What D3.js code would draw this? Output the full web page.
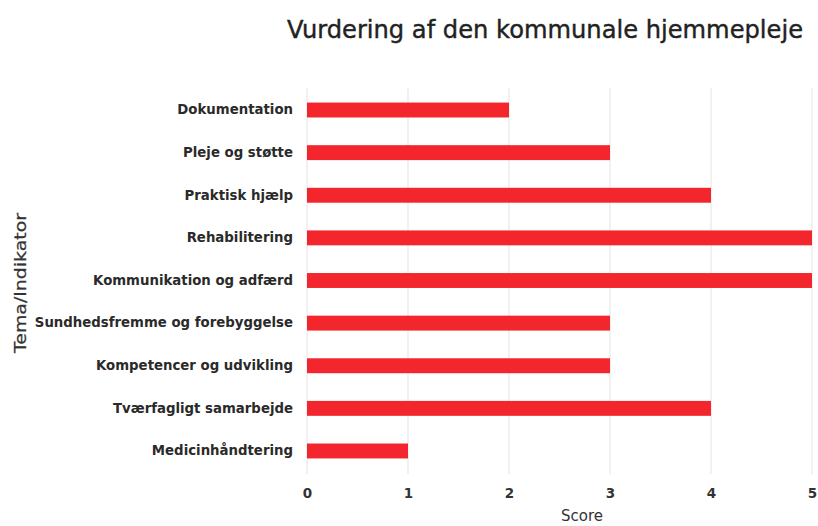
<!DOCTYPE html>
<html><head><meta charset="utf-8">
<script src="https://cdn.jsdelivr.net/npm/d3@7"></script>
<style>body{margin:0;background:#fff;} svg{display:block;}</style>
</head><body>
<script>
const categories = ["Dokumentation","Pleje og støtte","Praktisk hjælp","Rehabilitering","Kommunikation og adfærd","Sundhedsfremme og forebyggelse","Kompetencer og udvikling","Tværfagligt samarbejde","Medicinhåndtering"];
const scores = [2,3,4,5,5,3,3,4,1];
const xTicks = [0,1,2,3,4,5];
const title = "Vurdering af den kommunale hjemmepleje";
const xTitle = "Score";
const yTitle = "Tema/Indikator";

const W = 818, H = 526;
const svg = d3.select("body").append("svg").attr("width", W).attr("height", H);
const x = d3.scaleLinear().domain([0,5]).range([307,812]);
const y = d3.scaleBand().domain(categories).range([88.7,472.3]).paddingInner(0.65).paddingOuter(0.325);

svg.append("g").selectAll("line").data(xTicks).join("line")
  .attr("x1", d=>x(d)).attr("x2", d=>x(d)).attr("y1", 88).attr("y2", 474)
  .attr("stroke", "#e3e3e3").attr("stroke-width", 1);

svg.append("g").selectAll("rect").data(categories).join("rect")
  .attr("x", x(0)).attr("y", d=>y(d)).attr("height", y.bandwidth())
  .attr("width", (d,i)=>x(scores[i])-x(0)).attr("fill", "#f2262c");

const xAxis = d3.axisBottom(x).tickValues(xTicks).tickSize(0).tickPadding(0).tickFormat(d3.format("d"));
const gx = svg.append("g").attr("transform","translate(0,488)").call(xAxis);
gx.select(".domain").remove();
gx.selectAll("text").attr("font-family","'DejaVu Sans', sans-serif").attr("font-weight","bold").attr("font-size","13.5px").attr("fill","#333");

const yAxis = d3.axisLeft(y).tickSize(0).tickPadding(14);
const gy = svg.append("g").attr("transform",`translate(${x(0)},0)`).call(yAxis);
gy.select(".domain").remove();
gy.selectAll("text").attr("font-family","'DejaVu Sans', sans-serif").attr("font-weight","bold").attr("font-size","13.3px").attr("fill","#2a2a2a");

svg.append("text").attr("x", 545).attr("y", 38).attr("text-anchor","middle")
  .attr("font-family","'DejaVu Sans', sans-serif").attr("font-size","24.5px").attr("fill","#222")
  .attr("stroke","#222").attr("stroke-width",0.4)
  .attr("textLength",516).attr("lengthAdjust","spacingAndGlyphs").text(title);
svg.append("text").attr("x", 582).attr("y", 521).attr("text-anchor","middle")
  .attr("font-family","'DejaVu Sans', sans-serif").attr("font-size","15px").attr("fill","#333").text(xTitle);
svg.append("text").attr("transform","translate(26,283) rotate(-90)").attr("text-anchor","middle")
  .attr("font-family","'DejaVu Sans', sans-serif").attr("font-size","16px").attr("fill","#333")
  .attr("stroke","#333").attr("stroke-width",0.25)
  .attr("textLength",140).attr("lengthAdjust","spacingAndGlyphs").text(yTitle);
</script>
</body></html>
